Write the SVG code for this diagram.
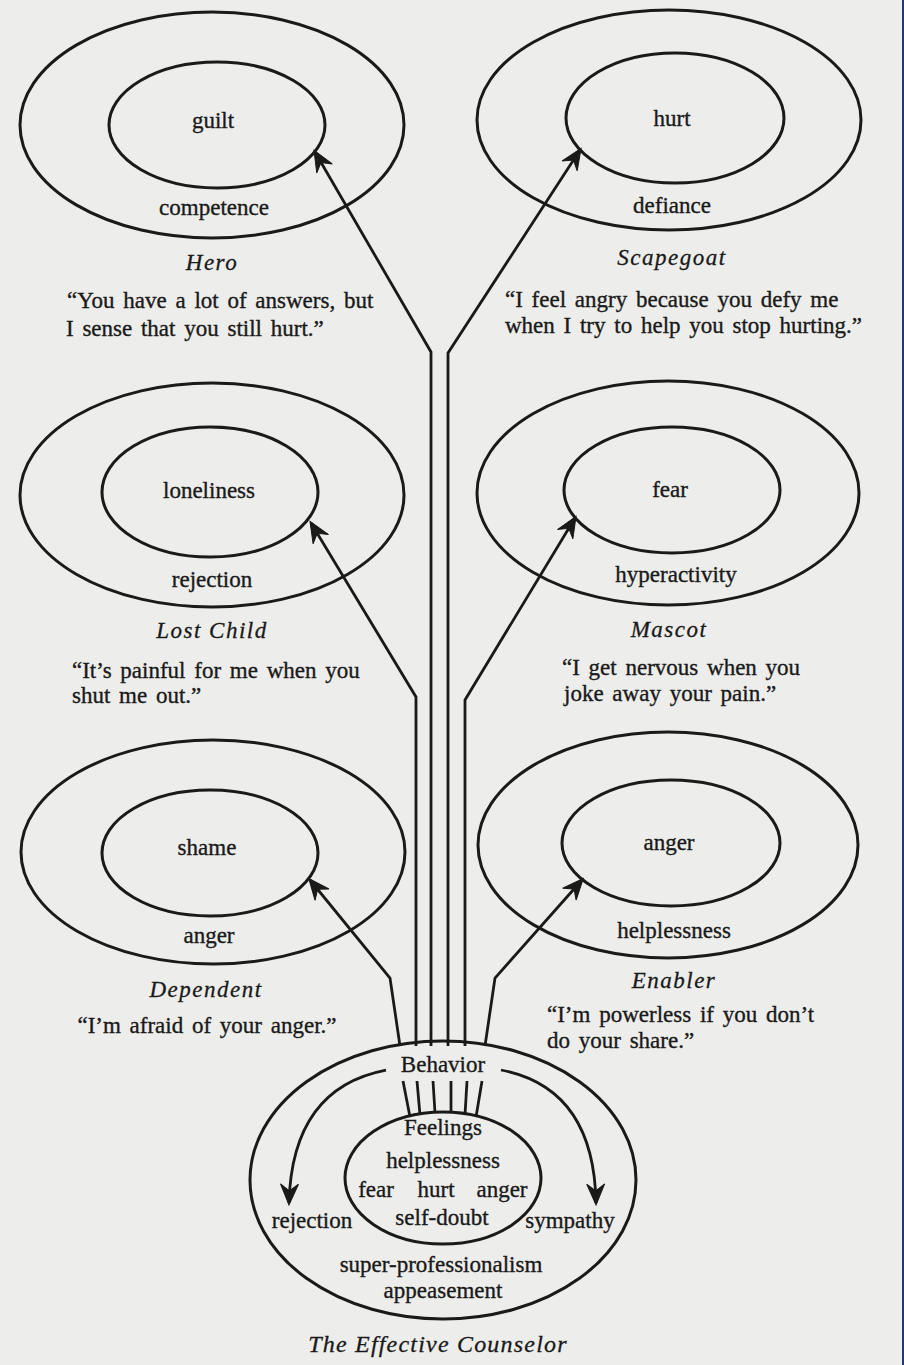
<svg xmlns="http://www.w3.org/2000/svg" width="904" height="1365" viewBox="0 0 904 1365">
<defs>
<style>
.ring{fill:none;stroke:#1a1a1a;stroke-width:3}
.conn{fill:none;stroke:#1a1a1a;stroke-width:2.8;stroke-linejoin:miter}
.t{font-family:"Liberation Serif","Times New Roman",serif;font-size:23px;fill:#1a1a1a;stroke:#1a1a1a;stroke-width:0.35;text-anchor:middle}
.q{font-family:"Liberation Serif","Times New Roman",serif;font-size:23px;word-spacing:3px;fill:#1a1a1a;stroke:#1a1a1a;stroke-width:0.35}
.n{font-family:"Liberation Serif","Times New Roman",serif;font-size:23px;font-style:italic;letter-spacing:1.5px;fill:#1a1a1a;stroke:#1a1a1a;stroke-width:0.3;text-anchor:middle}
</style>
<marker id="ah" viewBox="-24 -12 28 24" refX="0" refY="0" markerWidth="28" markerHeight="24" markerUnits="userSpaceOnUse" orient="auto">
<path d="M2,0 L-19,-9 L-12,0 L-19,9 Z" fill="#1a1a1a" stroke="#1a1a1a" stroke-width="1" stroke-linejoin="miter"/>
</marker>
</defs>
<rect x="0" y="0" width="904" height="1365" fill="#ededeb"/>
<rect x="902" y="0" width="2" height="1365" fill="#26367a"/>

<g id="connectors">
<polyline class="conn" points="431,1046 431,352 315,152" marker-end="url(#ah)"/>
<polyline class="conn" points="448,1046 448,353 580,150" marker-end="url(#ah)"/>
<polyline class="conn" points="416,1046 416,697 311,523" marker-end="url(#ah)"/>
<polyline class="conn" points="465,1046 465,700 575,518" marker-end="url(#ah)"/>
<polyline class="conn" points="400,1046 390,978 310,880" marker-end="url(#ah)"/>
<polyline class="conn" points="485,1046 495,978 582,880" marker-end="url(#ah)"/>
<line class="conn" x1="403" y1="1081" x2="410" y2="1117"/>
<line class="conn" x1="417" y1="1081" x2="420" y2="1115"/>
<line class="conn" x1="433" y1="1081" x2="435" y2="1113"/>
<line class="conn" x1="451" y1="1081" x2="451" y2="1113"/>
<line class="conn" x1="467" y1="1081" x2="465" y2="1115"/>
<line class="conn" x1="482" y1="1081" x2="476" y2="1117"/>
<path class="conn" d="M386,1070 Q292,1088 289,1203" marker-end="url(#ah)"/>
<path class="conn" d="M501,1070 Q594,1088 596,1203" marker-end="url(#ah)"/>
</g>

<g id="hero">
<ellipse class="ring" cx="212" cy="125" rx="192" ry="113"/>
<ellipse class="ring" cx="217" cy="125" rx="108" ry="63"/>
<text class="t" x="213" y="128">guilt</text>
<text class="t" x="214" y="215">competence</text>
<text class="n" x="212" y="270">Hero</text>
<text class="q" x="67" y="308">“You have a lot of answers, but</text>
<text class="q" x="66" y="336">I sense that you still hurt.”</text>
</g>

<g id="scapegoat">
<ellipse class="ring" cx="669" cy="120" rx="192" ry="110"/>
<ellipse class="ring" cx="675" cy="118" rx="109" ry="65"/>
<text class="t" x="672" y="126">hurt</text>
<text class="t" x="672" y="213">defiance</text>
<text class="n" x="672" y="265">Scapegoat</text>
<text class="q" x="505" y="307">“I feel angry because you defy me</text>
<text class="q" x="505" y="333">when  I try to help you stop hurting.”</text>
</g>

<g id="lost-child">
<ellipse class="ring" cx="212" cy="495" rx="192" ry="112"/>
<ellipse class="ring" cx="210" cy="492" rx="108" ry="65"/>
<text class="t" x="209" y="498">loneliness</text>
<text class="t" x="212" y="587">rejection</text>
<text class="n" x="212" y="638">Lost Child</text>
<text class="q" x="72" y="678">“It’s painful for me when you</text>
<text class="q" x="72" y="703">shut me out.”</text>
</g>

<g id="mascot">
<ellipse class="ring" cx="668" cy="493" rx="191" ry="112"/>
<ellipse class="ring" cx="672" cy="490" rx="108" ry="63"/>
<text class="t" x="670" y="497">fear</text>
<text class="t" x="676" y="582">hyperactivity</text>
<text class="n" x="669" y="637">Mascot</text>
<text class="q" x="562" y="675">“I get nervous when you</text>
<text class="q" x="564" y="701">joke away your pain.”</text>
</g>

<g id="dependent">
<ellipse class="ring" cx="213" cy="852" rx="192" ry="112"/>
<ellipse class="ring" cx="210" cy="853" rx="108" ry="63"/>
<text class="t" x="207" y="855">shame</text>
<text class="t" x="209" y="943">anger</text>
<text class="n" x="206" y="997">Dependent</text>
<text class="q" x="207" y="1033" style="text-anchor:middle">“I’m afraid of your anger.”</text>
</g>

<g id="enabler">
<ellipse class="ring" cx="668" cy="845" rx="190" ry="113"/>
<ellipse class="ring" cx="671" cy="843" rx="109" ry="63"/>
<text class="t" x="669" y="850">anger</text>
<text class="t" x="674" y="938">helplessness</text>
<text class="n" x="674" y="988">Enabler</text>
<text class="q" x="547" y="1022">“I’m powerless if you don’t</text>
<text class="q" x="547" y="1048">do your share.”</text>
</g>

<g id="counselor">
<ellipse class="ring" cx="443" cy="1180" rx="193" ry="139"/>
<ellipse class="ring" cx="443" cy="1178" rx="98" ry="66"/>
<text class="t" x="443" y="1072">Behavior</text>
<text class="t" x="443" y="1135">Feelings</text>
<text class="t" x="443" y="1168">helplessness</text>
<text class="t" x="376" y="1197">fear</text>
<text class="t" x="436" y="1197">hurt</text>
<text class="t" x="502" y="1197">anger</text>
<text class="t" x="442" y="1225">self-doubt</text>
<text class="t" x="312" y="1228">rejection</text>
<text class="t" x="570" y="1228">sympathy</text>
<text class="t" x="441" y="1272">super-professionalism</text>
<text class="t" x="443" y="1298">appeasement</text>
<text class="n" x="438" y="1352" style="font-size:24px;letter-spacing:1.2px">The Effective Counselor</text>
</g>
</svg>
